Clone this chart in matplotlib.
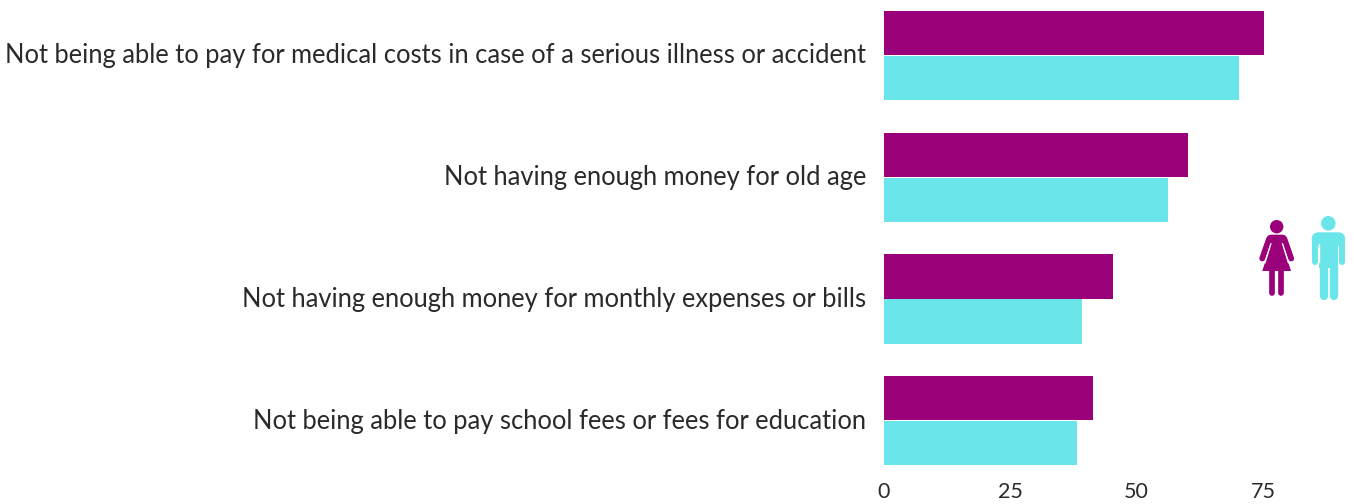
from matplotlib import pyplot as plt
from matplotlib.patches import Circle, Polygon, FancyBboxPatch
from matplotlib.transforms import ScaledTranslation

plt.rcParams['font.family'] = ['Lato', 'DejaVu Sans']

# Values.
categories = [
    "Not being able to pay for medical costs in case of a serious illness or accident",
    "Not having enough money for old age",
    "Not having enough money for monthly expenses or bills",
    "Not being able to pay school fees or fees for education",
]
women = [75.2, 60.2, 45.3, 41.4]
men = [70.3, 56.2, 39.2, 38.2]
x_ticks = [0, 25, 50, 75]

PURPLE = "#99007a"
CYAN = "#6ae6ea"
TEXT = "#2a2a2a"

W, H = 1354, 504
fig = plt.figure(figsize=(W / 100, H / 100), dpi=100)

# Axes placed in pixels: zero line at x=884, bottom at y=478.
ax = fig.add_axes([884 / W, 1 - 478 / H, (W - 884) / W, 478 / H])
rows = list(range(len(categories)))
bar_h = 0.363
ax.barh([r - 0.185 for r in rows], women, height=bar_h, color=PURPLE)
ax.barh([r + 0.185 for r in rows], men, height=bar_h, color=CYAN)

ax.set_xlim(0, 93)
ax.set_ylim(3.47, -0.456)
for side in ax.spines.values():
    side.set_visible(False)
ax.set_yticks(rows)
ax.set_yticklabels(categories, fontsize=18.36, color=TEXT)
ax.set_xticks(x_ticks)
ax.set_xticklabels([str(t) for t in x_ticks], fontsize=15.5, color=TEXT)
ax.tick_params(axis="y", length=0, pad=13)
ax.tick_params(axis="x", length=0, pad=3)

# Labels sit a little above the row centre in the reference.
up = ScaledTranslation(0, 1.5 / 72, fig.dpi_scale_trans)
for label in ax.get_yticklabels():
    label.set_transform(label.get_transform() + up)

# Overlay in pixel coordinates for the two person icons.
icons = fig.add_axes([0, 0, 1, 1])
icons.set_xlim(0, W)
icons.set_ylim(H, 0)
icons.axis("off")
icons.patch.set_alpha(0)


def limb(x0, y0, x1, y1, width, color):
    icons.plot([x0, x1], [y0, y1], color=color, lw=width * 0.72, solid_capstyle="round")


# Woman
icons.add_patch(Circle((1276.7, 226.7), 6.7, color=PURPLE, lw=0))
limb(1269, 239, 1262.2, 258.5, 5.8, PURPLE)
limb(1284.4, 239, 1291.2, 258.5, 5.8, PURPLE)
icons.add_patch(FancyBboxPatch((1267, 234.7), 19.4, 9, boxstyle="round,pad=0,rounding_size=4",
                               color=PURPLE, lw=0))
limb(1271, 243.5, 1265, 263, 1.2, "white")
limb(1282.4, 243.5, 1288.4, 263, 1.2, "white")
icons.add_patch(Polygon([(1271, 240), (1282.4, 240), (1282.4, 243.5), (1291, 271),
                         (1262.3, 271), (1271, 243.5)], color=PURPLE, lw=0))
limb(1272.2, 270, 1272.2, 293, 5.7, PURPLE)
limb(1281.2, 270, 1281.2, 293, 5.7, PURPLE)

# Man
icons.add_patch(Circle((1328.3, 223.3), 7.3, color=CYAN, lw=0))
icons.add_patch(FancyBboxPatch((1311.7, 232.3), 33.4, 14, boxstyle="round,pad=0,rounding_size=7",
                               color=CYAN, lw=0))
limb(1318.5, 244, 1318.5, 262, 1.4, "white")
limb(1338.5, 244, 1338.5, 262, 1.4, "white")
icons.add_patch(Polygon([(1319.3, 240), (1337.7, 240), (1337.7, 268), (1319.3, 268)],
                        color=CYAN, lw=0))
limb(1314.7, 240, 1314.7, 262, 6, CYAN)
limb(1342.1, 240, 1342.1, 262, 6, CYAN)
limb(1323.5, 265, 1323.5, 296, 8.3, CYAN)
limb(1333.5, 265, 1333.5, 296, 8.3, CYAN)

fig.savefig("out.png", dpi=100)
